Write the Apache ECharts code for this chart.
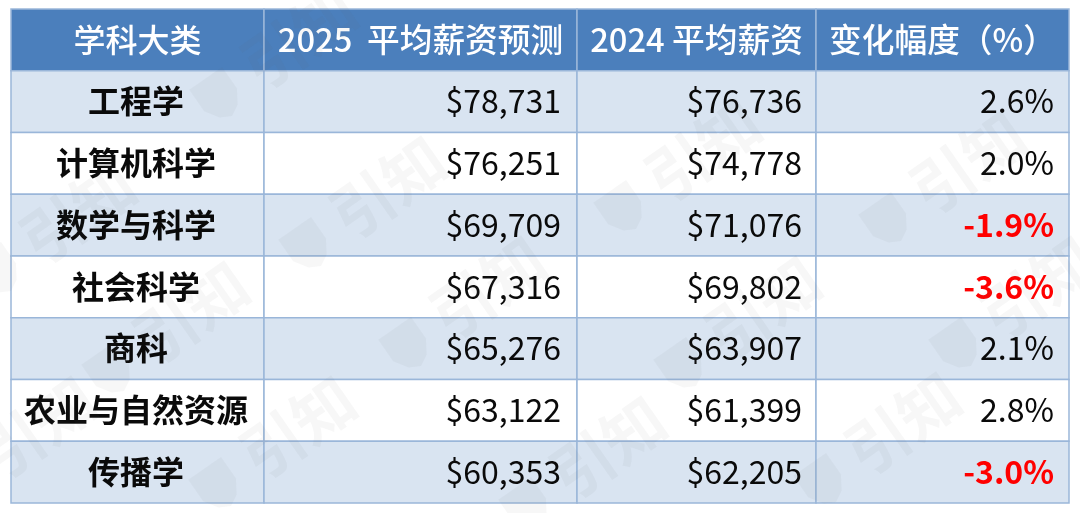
<!DOCTYPE html>
<html>
<head>
<meta charset="utf-8">
<script src="https://cdn.jsdelivr.net/npm/echarts@6/dist/echarts.min.js"></script>
<style>
html, body { margin: 0; padding: 0; background: #fff; }
#main { width: 1080px; height: 513px; }
</style>
</head>
<body>
<div id="main"></div>
<script>
var headers = ['学科大类', '2025  平均薪资预测', '2024 平均薪资', '变化幅度（%）'];
var categories = ['工程学', '计算机科学', '数学与科学', '社会科学', '商科', '农业与自然资源', '传播学'];
var forecast2025 = [78731, 76251, 69709, 67316, 65276, 63122, 60353];
var salary2024 = [76736, 74778, 71076, 69802, 63907, 61399, 62205];
var changePct = [2.6, 2.0, -1.9, -3.6, 2.1, 2.8, -3.0];

// 列宽
var colWidths = [253, 313, 239, 253];
var rightPad = [0, 16, 14, 15];
var headerSize = [32, 32.7, 32.7, 32.7];
var FONT = '"Noto Sans CJK SC", "Noto Sans", sans-serif';

function money(v) {
    return '$' + v.toLocaleString('en-US');
}

// [列, 行, 文字]
var cells = [];
headers.forEach(function (h, c) {
    cells.push([c, 0, h]);
});
categories.forEach(function (name, i) {
    cells.push([0, i + 1, name]);
    cells.push([1, i + 1, money(forecast2025[i])]);
    cells.push([2, i + 1, money(salary2024[i])]);
    cells.push([3, i + 1, changePct[i].toFixed(1) + '%']);
});

function colStart(c) {
    var s = 0;
    for (var i = 0; i < c; i++) {
        s += colWidths[i];
    }
    return s;
}

function renderCell(params, api) {
    var c = api.value(0);
    var r = api.value(1);
    var p0 = api.coord([colStart(c), r]);
    var p1 = api.coord([colStart(c) + colWidths[c], r + 1]);
    var text = cells[params.dataIndex][2];
    var isHeader = r === 0;
    var fill = isHeader ? '#4b7fbc' : (r % 2 === 1 ? '#d9e4f1' : '#ffffff');
    var color = '#0a0a0a';
    var weight = 400;
    var size = 32;
    var x = p1[0] - rightPad[c];
    var align = 'right';
    if (isHeader) {
        color = '#ffffff';
        weight = 500;
        size = headerSize[c];
    }
    if (isHeader) {
        x = (p0[0] + p1[0]) / 2;
        align = 'center';
    } else if (c === 0) {
        x = (p0[0] + p1[0]) / 2 - 1.5;
        align = 'center';
    }
    if (c === 0 && !isHeader) {
        weight = 700;
    }
    if (c === 3 && !isHeader && changePct[r - 1] < 0) {
        color = '#ff0000';
        weight = 700;
    }
    return {
        type: 'group',
        children: [
            {
                type: 'rect',
                shape: { x: p0[0], y: p0[1], width: p1[0] - p0[0], height: p1[1] - p0[1] },
                style: { fill: fill, stroke: '#9ab6d9', lineWidth: 1.5 }
            },
            {
                type: 'text',
                z2: 10,
                style: {
                    x: x,
                    y: (p0[1] + p1[1]) / 2 - 0.5,
                    text: text,
                    fill: color,
                    align: align,
                    verticalAlign: 'middle',
                    font: weight + ' ' + size + 'px ' + FONT
                }
            }
        ]
    };
}

// 水印
var markCenters = [[60, 225], [370, 200], [685, 163], [950, 175], [173, 325], [470, 300], [745, 320], [1020, 300], [280, 440], [590, 460], [885, 436], [281, 50], [20, 440]];
var marks = markCenters.map(function (m) {
    return {
        type: 'group',
        x: m[0],
        y: m[1],
        rotation: 35 * Math.PI / 180,
        silent: true,
        z: 100,
        children: [
            {
                type: 'polygon',
                z: 100,
                shape: {
                    points: [[-98, -20], [-58, -20], [-58, 6], [-67, 20], [-78, 26], [-89, 20], [-98, 6]]
                },
                style: { fill: 'rgba(90,90,90,0.05)' }
            },
            {
                type: 'text',
                z: 100,
                style: {
                    x: -40,
                    y: 0,
                    text: '引知',
                    fill: 'rgba(90,90,90,0.05)',
                    verticalAlign: 'middle',
                    font: '700 62px ' + FONT
                }
            }
        ]
    };
});

var myChart = echarts.init(document.getElementById('main'));
var option = {
    animation: false,
    backgroundColor: '#ffffff',
    grid: { left: 11, top: 9, width: 1058, height: 494 },
    xAxis: { type: 'value', min: 0, max: 1058, show: false },
    yAxis: { type: 'value', min: 0, max: 8, inverse: true, show: false },
    graphic: marks,
    series: [
        {
            type: 'custom',
            coordinateSystem: 'cartesian2d',
            silent: true,
            clip: false,
            encode: { x: 0, y: 1 },
            data: cells.map(function (d) {
                return [d[0], d[1]];
            }),
            renderItem: renderCell
        }
    ]
};
myChart.setOption(option);
</script>
</body>
</html>
